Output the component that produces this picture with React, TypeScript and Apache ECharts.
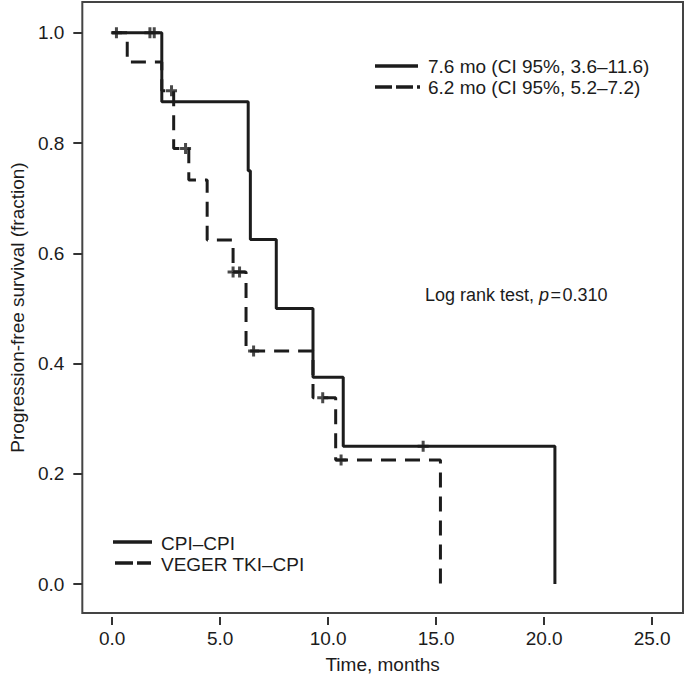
import React, { useEffect, useRef } from 'react';
import * as echarts from 'echarts';

// Axis ticks
const xTicks = [0, 5, 10, 15, 20, 25];
const yTicks = [0, 0.2, 0.4, 0.6, 0.8, 1.0];

// CPI–CPI (solid) Kaplan–Meier steps
const cpiTimes = [0, 2.3, 6.3, 6.4, 7.6, 9.3, 10.7, 20.5];
const cpiSurv = [1.0, 0.875, 0.75, 0.625, 0.5, 0.375, 0.25, 0.0];
const cpiCensorTimes = [0.2, 1.75, 1.95, 14.4];
const cpiCensorSurv = [1.0, 1.0, 1.0, 0.25];

// VEGER TKI–CPI (dashed) Kaplan–Meier steps
const vegTimes = [0, 0.7, 2.3, 2.85, 3.55, 4.4, 5.6, 6.2, 9.3, 10.35, 15.2];
const vegSurv = [1.0, 0.947, 0.895, 0.79, 0.733, 0.624, 0.566, 0.423, 0.338, 0.225, 0.0];
const vegCensorTimes = [2.75, 3.4, 5.6, 5.9, 6.55, 9.75, 10.6];
const vegCensorSurv = [0.895, 0.79, 0.566, 0.566, 0.423, 0.338, 0.225];

const INK = '#1c1c1c';
const FONT = 'Liberation Sans, Arial, Helvetica, sans-serif';
const PLUS = 'path://M4,0 h3 v4 h4 v3 h-4 v4 h-3 v-4 h-4 v-3 h4 z';

const zip = (a: number[], b: number[]) => a.map((v, i) => [v, b[i]]);

export default function App() {
  const ref = useRef<HTMLDivElement>(null);
  useEffect(() => {
    if (!ref.current) return;
    const chart = echarts.init(ref.current, undefined, { renderer: 'svg' });
    const textStyle = { fontSize: 19, color: INK, fontFamily: FONT };
    chart.setOption({
      animation: false,
      backgroundColor: '#ffffff',
      grid: {
        left: 78,
        right: 2,
        top: 2,
        bottom: 69,
        show: true,
        borderColor: '#444444',
        borderWidth: 2,
        backgroundColor: 'transparent',
      },
      xAxis: {
        type: 'value',
        min: -1.38,
        max: 26.43,
        offset: 4,
        axisLine: { show: false, onZero: false },
        splitLine: { show: false },
        axisTick: {
          show: true,
          customValues: xTicks,
          length: 8,
          lineStyle: { color: '#333333', width: 2 },
        },
        axisLabel: {
          customValues: xTicks,
          formatter: (v: number) => v.toFixed(1),
          margin: 12,
          ...textStyle,
        },
        name: 'Time, months',
        nameLocation: 'middle',
        nameGap: 38,
        nameTextStyle: textStyle,
      },
      yAxis: {
        type: 'value',
        min: -0.0526,
        max: 1.056,
        axisLine: { show: false, onZero: false },
        splitLine: { show: false },
        axisTick: {
          show: true,
          customValues: yTicks,
          length: 9,
          lineStyle: { color: '#333333', width: 2 },
        },
        axisLabel: {
          customValues: yTicks,
          formatter: (v: number) => v.toFixed(1),
          margin: 18,
          ...textStyle,
        },
        name: 'Progression-free survival (fraction)',
        nameLocation: 'middle',
        nameGap: 55,
        nameRotate: 90,
        nameTextStyle: textStyle,
      },
      series: [
        {
          name: 'CPI–CPI',
          type: 'line',
          step: 'end',
          symbol: 'none',
          data: zip(cpiTimes, cpiSurv),
          lineStyle: { color: INK, width: 3 },
          z: 3,
        },
        {
          name: 'VEGER TKI–CPI',
          type: 'line',
          step: 'end',
          symbol: 'none',
          data: zip(vegTimes, vegSurv),
          lineStyle: { color: INK, width: 3, type: [15, 9] },
          z: 2,
        },
        {
          name: 'CPI–CPI censored',
          type: 'scatter',
          symbol: PLUS,
          symbolSize: 11,
          data: zip(cpiCensorTimes, cpiCensorSurv),
          itemStyle: { color: INK },
          z: 4,
        },
        {
          name: 'VEGER TKI–CPI censored',
          type: 'scatter',
          symbol: PLUS,
          symbolSize: 11,
          data: zip(vegCensorTimes, vegCensorSurv),
          itemStyle: { color: INK },
          z: 4,
        },
      ],
      graphic: [
        // median legend (top right)
        { type: 'line', shape: { x1: 375, y1: 66, x2: 418, y2: 66 }, style: { stroke: INK, lineWidth: 3.5 } },
        { type: 'text', x: 428, y: 66, style: { text: '7.6 mo (CI 95%, 3.6–11.6)', fontSize: 19, fontFamily: FONT, fill: INK, verticalAlign: 'middle' } },
        { type: 'line', shape: { x1: 375, y1: 87, x2: 420, y2: 87 }, style: { stroke: INK, lineWidth: 3.5, lineDash: [17, 4] } },
        { type: 'text', x: 428, y: 87, style: { text: '6.2 mo (CI 95%, 5.2–7.2)', fontSize: 19, fontFamily: FONT, fill: INK, verticalAlign: 'middle' } },
        // log rank annotation
        {
          type: 'text',
          x: 425,
          y: 295,
          style: {
            text: '{n|Log rank test, }{i|p}{n|\u200A=\u200A0.310}',
            verticalAlign: 'middle',
            rich: {
              n: { fontSize: 18, fontFamily: FONT, fill: INK },
              i: { fontSize: 18, fontFamily: FONT, fill: INK, fontStyle: 'italic' },
            },
          },
        },
        // group legend (bottom left)
        { type: 'line', shape: { x1: 113, y1: 542, x2: 152, y2: 542 }, style: { stroke: INK, lineWidth: 3.5 } },
        { type: 'text', x: 161, y: 543, style: { text: 'CPI–CPI', fontSize: 19, fontFamily: FONT, fill: INK, verticalAlign: 'middle' } },
        { type: 'line', shape: { x1: 115, y1: 563, x2: 151, y2: 563 }, style: { stroke: INK, lineWidth: 3.5, lineDash: [18, 4] } },
        { type: 'text', x: 161, y: 564, style: { text: 'VEGER TKI–CPI', fontSize: 19, fontFamily: FONT, fill: INK, verticalAlign: 'middle' } },
      ],
    });
    return () => chart.dispose();
  }, []);
  return (
    <div
      ref={ref}
      style={{ position: 'fixed', left: 0, top: 0, width: 685, height: 682, background: '#fff' }}
    />
  );
}
